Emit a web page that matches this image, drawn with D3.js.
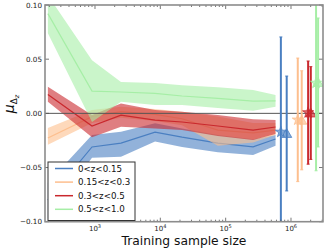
<!DOCTYPE html>
<html>
<head>
<meta charset="utf-8">
<script src="https://cdn.jsdelivr.net/npm/d3@7/dist/d3.min.js"></script>
<style>
  body { margin: 0; background: #fff; }
  svg { display: block; font-family: 'DejaVu Sans', sans-serif; }
</style>
</head>
<body>
<svg id="chart" width="329" height="249"></svg>
<script>
// training sample sizes for the learning curves
const sizes = [190, 900, 2500, 8300, 21500, 76000, 263000, 580000];
const names = ['0<z<0.15', '0.15<z<0.3', '0.3<z<0.5', '0.5<z<1.0'];
const colors = ['#4a7fc1', '#fdbf8e', '#c9282d', '#a6eea6'];

const blueMean = [-0.080, -0.031, -0.0274, -0.0173, -0.022, -0.0274, -0.031, -0.0237];
const blueLo   = [-0.097, -0.041, -0.040, -0.026, -0.031, -0.036, -0.0385, -0.030];
const blueHi   = [-0.064, -0.020, -0.017, -0.0092, -0.0139, -0.020, -0.024, -0.020];

const orangeMean = [-0.0228, -0.003, 0.0015, -0.001, -0.005, -0.0154, -0.018, -0.0154];
const orangeLo   = [-0.029, -0.009, -0.004, -0.007, -0.011, -0.030, -0.027, -0.020];
const orangeHi   = [-0.0136, 0.003, 0.006, 0.004, 0.0015, -0.003, -0.009, -0.009];

const redMean = [0.0175, -0.0117, -0.0016, -0.0062, -0.008, -0.0117, -0.0154, -0.0126];
const redLo   = [0.0107, -0.022, -0.0124, -0.0139, -0.0154, -0.021, -0.0246, -0.019];
const redHi   = [0.0245, -0.0016, 0.0092, 0.003, 0.0015, -0.0016, -0.0055, -0.0062];

const greenMean = [0.092, 0.0205, 0.0197, 0.0185, 0.016, 0.0138, 0.0113, 0.0116];
const greenLo   = [0.074, -0.008, 0.0107, 0.0077, 0.0077, 0.005, 0.0024, 0.006];
const greenHi   = [0.109, 0.049, 0.029, 0.028, 0.026, 0.024, 0.0215, 0.017];

// full-sample points (star, triangle) with error bars
const fullX   = [[700000, 860000], [1270000, 1460000], [1830000, 2010000], [2420000, 2600000]];
const fullY   = [[-0.0172, -0.0186], [-0.006, -0.0064], [0.0007, 0.0003], [0.028, 0.0285]];
const fullErr = [[0.0877, 0.053], [0.057, 0.0457], [0.0476, 0.0428], [0.081, 0.0595]];

const curves = [
  [blueMean, blueLo, blueHi],
  [orangeMean, orangeLo, orangeHi],
  [redMean, redLo, redHi],
  [greenMean, greenLo, greenHi]
];

const svg = d3.select('#chart');
const L = 45, R = 323, T = 5, B = 221.7;

const x = d3.scaleLog().domain([171.7, 3.09e6]).range([L, R]);
const y = d3.scaleLinear().domain([-0.10, 0.10]).range([B, T]);

svg.append('defs').append('clipPath').attr('id', 'plot')
  .append('rect').attr('x', L).attr('y', T).attr('width', R - L).attr('height', B - T);

const g = svg.append('g').attr('clip-path', 'url(#plot)');

// bands then lines
const area = d3.area().x((d, i) => x(sizes[i])).y0(d => y(d[0])).y1(d => y(d[1]));
const line = d3.line().x((d, i) => x(sizes[i])).y(d => y(d));

curves.forEach((c, k) => {
  const pts = c[1].map((lo, i) => [lo, c[2][i]]);
  g.append('path').attr('d', area(pts))
    .attr('fill', colors[k]).attr('fill-opacity', 0.6).attr('stroke', 'none');
  g.append('path').attr('d', line(c[0]))
    .attr('fill', 'none').attr('stroke', colors[k]).attr('stroke-width', 1.2);
});

// zero line
g.append('line').attr('x1', L).attr('x2', R).attr('y1', y(0)).attr('y2', y(0))
  .attr('stroke', '#555').attr('stroke-width', 1);

// error bars + markers
const star = d3.symbol().type(d3.symbolStar).size(38);
const tri = d3.symbol().type(d3.symbolTriangle).size(44);
fullX.forEach((xs, k) => {
  xs.forEach((xv, j) => {
    const cx = x(xv), m = fullY[k][j], e = fullErr[k][j];
    g.append('line').attr('x1', cx).attr('x2', cx).attr('y1', y(m - e)).attr('y2', y(m + e))
      .attr('stroke', colors[k]).attr('stroke-width', 2);
    [m - e, m + e].forEach(v => g.append('line')
      .attr('x1', cx - 1.5).attr('x2', cx + 1.5).attr('y1', y(v)).attr('y2', y(v))
      .attr('stroke', colors[k]).attr('stroke-width', 1));
  });
  xs.forEach((xv, j) => {
    g.append('path').attr('d', (j === 0 ? star : tri)())
      .attr('transform', `translate(${x(xv)},${y(fullY[k][j]) + (j === 1 ? 1 : 0)})`)
      .attr('fill', colors[k]).attr('fill-opacity', 0.65)
      .attr('stroke', colors[k]).attr('stroke-width', 0.8);
  });
});

// ticks (inward, all four sides)
const majors = [1e3, 1e4, 1e5, 1e6];
const minors = x.ticks().filter(t => !majors.includes(t));
const yTicks = [-0.10, -0.05, 0, 0.05, 0.10];
const axes = svg.append('g').attr('stroke', '#555').attr('stroke-width', 0.8);
[[B, -1], [T, 1]].forEach(([yy, dir]) => {
  majors.forEach(t => axes.append('line').attr('x1', x(t)).attr('x2', x(t))
    .attr('y1', yy).attr('y2', yy + dir * 4));
  minors.forEach(t => axes.append('line').attr('x1', x(t)).attr('x2', x(t))
    .attr('y1', yy).attr('y2', yy + dir * 2));
});
[[L, 1], [R, -1]].forEach(([xx, dir]) => {
  yTicks.forEach(t => axes.append('line').attr('x1', xx).attr('x2', xx + dir * 4)
    .attr('y1', y(t)).attr('y2', y(t)));
});

// frame
svg.append('rect').attr('x', L).attr('y', T).attr('width', R - L).attr('height', B - T)
  .attr('fill', 'none').attr('stroke', '#8c8c8c').attr('stroke-width', 1.6);

// tick labels
svg.append('g').selectAll('text').data(yTicks).join('text')
  .attr('x', L - 3).attr('y', d => y(d) + 2.6)
  .attr('text-anchor', 'end').attr('font-size', 7.2).attr('fill', '#222')
  .text(d => d3.format('.2f')(d).replace('-', '\u2212'));

const xl = svg.append('g').selectAll('text').data(majors).join('text')
  .attr('x', d => x(d)).attr('y', 231)
  .attr('text-anchor', 'middle').attr('font-size', 7).attr('fill', '#222');
xl.append('tspan').text('10');
xl.append('tspan').attr('font-size', 5).attr('dy', -3.5).text(d => Math.round(Math.log10(d)));

// axis labels
svg.append('text').attr('x', 184).attr('y', 245).attr('text-anchor', 'middle')
  .attr('font-size', 12.3).attr('fill', '#111').text('Training sample size');

const yl = svg.append('text').attr('transform', 'translate(14,104) rotate(-90)')
  .attr('text-anchor', 'middle').attr('fill', '#111');
yl.append('tspan').attr('font-size', 14).attr('font-style', 'italic').text('\u03bc');
yl.append('tspan').attr('font-size', 9).attr('dy', 3).text('\u0394');
yl.append('tspan').attr('font-size', 6.5).attr('dy', 2).attr('font-style', 'italic').text('z');

// legend
const lg = svg.append('g');
lg.append('rect').attr('x', 48).attr('y', 162).attr('width', 87).attr('height', 58.5)
  .attr('fill', '#fff').attr('stroke', '#333').attr('stroke-width', 1);
names.forEach((n, i) => {
  const yy = 168.5 + i * 13.6;
  lg.append('line').attr('x1', 55).attr('x2', 73).attr('y1', yy).attr('y2', yy)
    .attr('stroke', colors[i]).attr('stroke-width', 1.5);
  lg.append('text').attr('x', 78).attr('y', yy + 3.1).attr('font-size', 8.7)
    .attr('fill', '#111').text(n);
});
</script>
</body>
</html>
